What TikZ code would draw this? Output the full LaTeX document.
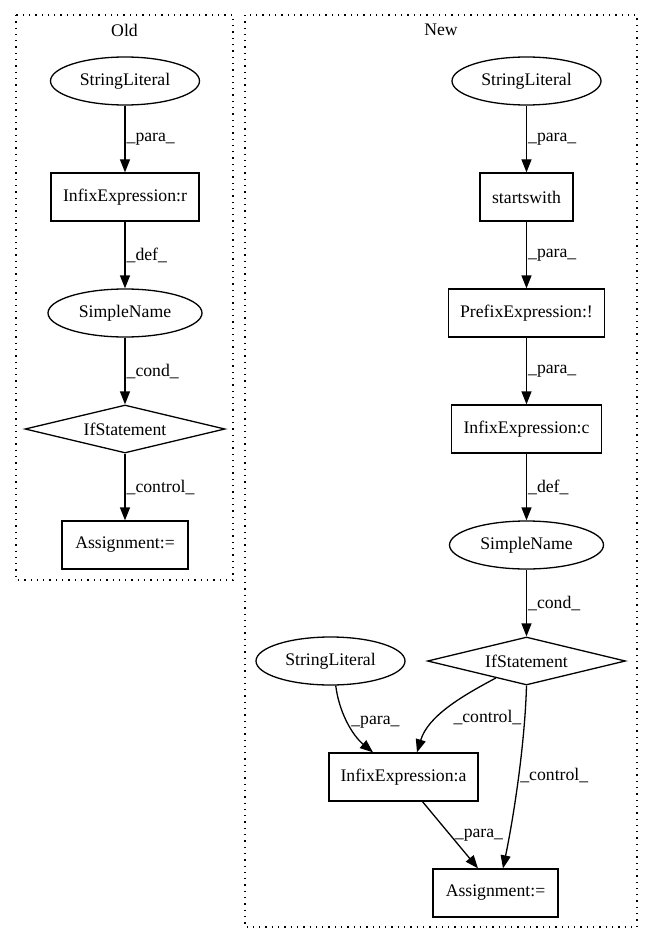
\documentclass[tikz,border=0pt]{standalone}
\usepackage{fontspec}
\setmainfont{Liberation Serif}
\usetikzlibrary{shapes.geometric,arrows.meta}
\begin{document}
\begin{tikzpicture}[x=1pt,y=-1pt,
  every node/.style={font=\fontsize{17.7}{20}\selectfont},
  box/.style={draw, line width=1.3pt, rectangle, minimum height=48pt, inner sep=0pt},
  ell/.style={draw, line width=1.3pt, ellipse, minimum height=48pt, inner sep=0pt},
  dia/.style={draw, line width=1.3pt, diamond, aspect=4, minimum height=48pt, inner sep=0pt},
  cluster/.style={draw, line width=1.3pt, dash pattern=on 1.3pt off 5pt},
  arr/.style={-{Triangle[length=13pt,width=10pt]}, line width=1.3pt},
  lab/.style={anchor=west, inner sep=1pt}
]
\useasboundingbox (0,0) rectangle (652,944);
% clusters
\draw[cluster] (16,15) rectangle (233,580);
\draw[cluster] (245,15) rectangle (637,927);
\node (oldlab) at (124.5,30) {Old};
\node (newlab) at (441,30) {New};
% old nodes
\node[ell, minimum width=149pt] (osl) at (125,81) {StringLiteral};
\node[box, minimum width=148pt] (oir) at (125,197) {InfixExpression:r};
\node[ell, minimum width=154pt] (osn) at (125,313) {SimpleName};
\node[dia, minimum width=200pt] (oif) at (125,429) {IfStatement};
\node[box, minimum width=126pt] (oas) at (125,545) {Assignment:=};
% new nodes
\node[ell, minimum width=149pt] (nsl) at (526.5,81) {StringLiteral};
\node[box, minimum width=93pt] (nsw) at (526.5,197) {startswith};
\node[box, minimum width=156pt] (npe) at (526.5,313) {PrefixExpression:!};
\node[box, minimum width=150pt] (nic) at (526.5,429) {InfixExpression:c};
\node[ell, minimum width=154pt] (nsn) at (526.5,545) {SimpleName};
\node[dia, minimum width=198pt] (nif) at (526.5,661) {IfStatement};
\node[ell, minimum width=149pt] (nsl2) at (330.5,661) {StringLiteral};
\node[box, minimum width=149pt] (nia) at (403.5,777) {InfixExpression:a};
\node[box, minimum width=125pt] (nas) at (495.5,893) {Assignment:=};
% old edges
\draw[arr] (osl) -- node[lab]{\_para\_} (oir);
\draw[arr] (oir) -- node[lab]{\_def\_} (osn);
\draw[arr] (osn) -- node[lab]{\_cond\_} (oif);
\draw[arr] (oif) -- node[lab]{\_control\_} (oas);
% new edges
\draw[arr] (nsl) -- node[lab]{\_para\_} (nsw);
\draw[arr] (nsw) -- node[lab]{\_para\_} (npe);
\draw[arr] (npe) -- node[lab]{\_para\_} (nic);
\draw[arr] (nic) -- node[lab]{\_def\_} (nsn);
\draw[arr] (nsn) -- node[lab]{\_cond\_} (nif);
\draw[arr] (nsl2.-78) .. controls (339,712) and (352,735) .. ([xshift=-30.5pt]nia.north)
  node[pos=0.5, lab, xshift=2pt]{\_para\_};
\draw[arr] (nif.209) .. controls (462,696) and (428,716) .. ([xshift=13.5pt]nia.north)
  node[pos=0.5, anchor=north west, inner sep=1pt, xshift=4pt]{\_control\_};
\draw[arr] (nif.south) .. controls (525,740) and (515,810) .. ([xshift=7.5pt]nas.north)
  node[pos=0.5, lab]{\_control\_};
\draw[arr] ([xshift=19pt]nia.south) -- ([xshift=-17.5pt]nas.north)
  node[pos=0.5, lab, xshift=3pt]{\_para\_};
\end{tikzpicture}
\end{document}
